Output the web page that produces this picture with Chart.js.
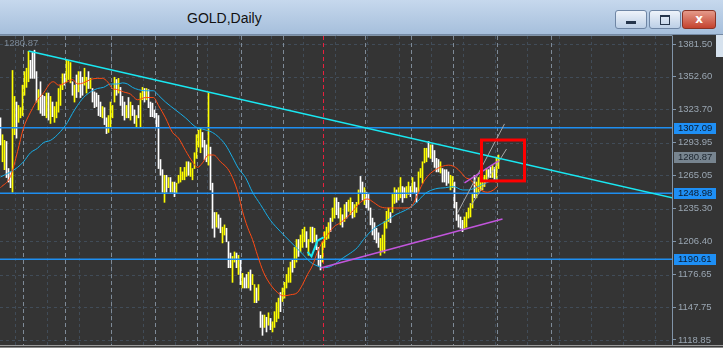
<!DOCTYPE html>
<html>
<head>
<meta charset="utf-8">
<script src="https://cdn.jsdelivr.net/npm/chart.js@4.4.1/dist/chart.umd.min.js"></script>
<style>
  body { margin: 0; width: 723px; height: 348px; overflow: hidden; background: #343434; position: relative; font-family: 'Liberation Sans', Arial, sans-serif; }
  #title { position: absolute; left: 0; top: 0; width: 723px; height: 34px; background: linear-gradient(#c6d8ed, #a6bfdc); border-bottom: 1px solid #7489a3; }
  #title span { position: absolute; left: 187px; top: 10px; font-size: 14px; color: #111; }
  .btn { position: absolute; top: 10px; height: 17px; border: 1px solid #6f86a5; border-radius: 3px; background: linear-gradient(#eef3fa, #bccfe6); }
  .btn i { position: absolute; display: block; }
  #cls { background: linear-gradient(#e59a8a, #c4432f); border-color: #8a3426; color: #fff; font: bold 12px 'DejaVu Sans', sans-serif; text-align: center; line-height: 17px; }
  #frameR { position: absolute; left: 716px; top: 35px; width: 7px; height: 22px; background: #d6e2ee; }
  #frameB { position: absolute; left: 0; top: 345px; width: 723px; height: 3px; background: #3b3b3b; border-top: 1px solid #9a9a9a; box-sizing: border-box; }
  #frameB div { position: absolute; left: 0; top: 1px; width: 723px; height: 1px; background: #8a8a8a; }
  canvas { position: absolute; left: 0; top: 35px; }
</style>
</head>
<body>
<div id="title">
  <span>GOLD,Daily</span>
  <div class="btn" style="left:615px;width:30px"><i style="left:10px;top:10px;width:10px;height:3px;background:#26364c"></i></div>
  <div class="btn" style="left:649px;width:30px"><i style="left:10px;top:4px;width:8px;height:7px;border:1px solid #26364c;border-top-width:2px"></i></div>
  <div class="btn" id="cls" style="left:682px;width:32px">x</div>
</div>
<canvas id="c" width="723" height="310"></canvas>
<div id="frameR"></div>
<div id="frameB"><div></div></div>
<script>
// daily bars, index 0 = first bar on the left
const barDirs =
  'WYYWWWYYWY' + 'YYYYYWWWWY' + 'WWWYWYWYYY' + 'YYWYYYWYWY' + 'WWYYWYWWWW' +
  'WYWWYYYYWY' + 'WWWYWYWWYW' + 'YYWYWWWWWW' + 'WWYWYWYWYY' + 'YYYYWYYYYY' +
  'YWWWYWWWYW' + 'WYYWWWYYWY' + 'WYWWYWYYWY' + 'WWYWYWYYYY' + 'WYYYYYWYYW' +
  'YYYWYYWYWW' + 'WYYYYWYYWW' + 'YWYWYYWYYY' + 'WWYWWWWWWW' + 'YYYYYWYYWY' +
  'YWWYYWYWWY' + 'YYYYWYWWWW' + 'YWWWWYYWWW' + 'WWYYYYYWYY' + 'YYYYWWYWYY';

const barHighs = [
  1316,1301,1296,1295,1271,1268,1358,1335,1330,1327,
  1325,1345,1357,1360,1375,1367,1374,1376,1357,1341,
  1348,1336,1335,1338,1338,1335,1330,1326,1330,1342,
  1345,1355,1355,1367,1367,1365,1348,1345,1354,1357,
  1357,1352,1360,1352,1357,1351,1342,1339,1338,1336,
  1330,1326,1325,1316,1318,1330,1327,1352,1350,1351,
  1343,1335,1330,1327,1334,1330,1327,1323,1318,1327,
  1338,1343,1342,1342,1341,1330,1329,1323,1320,1318,
  1279,1270,1265,1265,1263,1263,1259,1259,1258,1265,
  1272,1268,1272,1277,1277,1276,1271,1285,1301,1305,
  1307,1303,1296,1292,1338,1290,1258,1232,1232,1230,
  1227,1219,1221,1218,1206,1196,1193,1197,1196,1194,
  1190,1178,1174,1177,1179,1181,1177,1168,1165,1168,
  1144,1141,1141,1139,1143,1138,1135,1144,1152,1156,
  1161,1165,1170,1177,1183,1188,1190,1201,1208,1208,
  1212,1217,1219,1215,1208,1219,1219,1218,1212,1201,
  1194,1206,1215,1219,1223,1227,1236,1245,1245,1241,
  1236,1230,1239,1241,1243,1245,1241,1239,1241,1252,
  1264,1259,1254,1250,1248,1236,1227,1223,1218,1214,
  1209,1212,1224,1233,1236,1232,1248,1254,1252,1254,
  1263,1255,1254,1255,1259,1255,1263,1259,1254,1268,
  1271,1277,1289,1289,1295,1292,1292,1287,1280,1279,
  1277,1271,1270,1270,1268,1265,1264,1259,1241,1230,
  1228,1225,1228,1232,1236,1240,1248,1265,1259,1263,
  1265,1263,1265,1271,1270,1272,1274,1272,1281,1283
];

const barLows = [
  1292,1277,1270,1263,1259,1254,1250,1301,1298,1312,
  1316,1318,1336,1343,1348,1351,1351,1351,1330,1323,
  1320,1318,1318,1316,1314,1311,1317,1312,1316,1321,
  1327,1341,1345,1348,1350,1347,1336,1330,1334,1339,
  1334,1336,1345,1338,1342,1342,1330,1325,1326,1318,
  1317,1316,1310,1302,1303,1308,1316,1330,1336,1338,
  1327,1318,1314,1316,1316,1314,1318,1311,1308,1316,
  1308,1332,1330,1332,1325,1317,1317,1316,1308,1271,
  1265,1250,1241,1250,1254,1250,1250,1246,1249,1258,
  1259,1261,1261,1264,1265,1264,1261,1271,1280,1290,
  1285,1290,1279,1277,1274,1252,1218,1210,1219,1218,
  1214,1205,1212,1206,1183,1183,1170,1188,1183,1177,
  1168,1165,1165,1165,1165,1163,1168,1152,1152,1154,
  1130,1123,1130,1126,1132,1128,1126,1130,1135,1138,
  1144,1153,1156,1165,1170,1170,1179,1183,1188,1193,
  1197,1201,1206,1201,1194,1206,1205,1206,1199,1185,
  1181,1188,1201,1208,1209,1215,1224,1227,1230,1227,
  1221,1219,1224,1227,1233,1230,1227,1228,1232,1239,
  1249,1243,1239,1236,1234,1221,1212,1208,1205,1201,
  1194,1197,1196,1218,1224,1223,1232,1240,1241,1243,
  1245,1241,1245,1245,1248,1246,1250,1249,1241,1250,
  1263,1258,1276,1277,1281,1280,1277,1272,1268,1268,
  1267,1259,1259,1256,1258,1252,1254,1236,1225,1219,
  1218,1215,1218,1219,1227,1228,1236,1245,1245,1250,
  1252,1252,1255,1259,1263,1263,1263,1261,1259,1271
];

// moving averages as [bar index, price]
const fastMA = [[0,1254],[5,1264],[8.5,1286],[11.5,1307],[15,1321],[18.5,1332],[21.5,1338],[25,1347],[26.5,1348],[29,1345],
  [33.5,1348],[36,1350],[38.5,1346],[41.5,1347],[45,1350],[48.5,1351],[51,1351],[53.5,1348],[56,1342],[58.5,1341],
  [61.5,1339],[65,1337],[68.5,1332],[72.5,1334],[76.5,1334],[79,1327],[82.5,1316],[86,1303],[89,1298],[92.5,1287],
  [96,1277],[98.5,1272],[101,1276],[104,1283],[106.5,1283],[110,1277],[113.5,1271],[116,1263],[119,1248],[121,1233],
  [123.5,1219],[126,1208],[128.5,1194],[131.5,1179],[135,1168],[138.5,1161],[141.5,1158],[145,1159],[148.5,1161],[151,1168],
  [153.5,1177],[156,1185],[158.5,1197],[161,1206],[163.5,1212],[166.5,1219],[170,1223],[173.5,1228],[176.5,1234],[180,1241],
  [183.5,1244],[186.5,1241],[190,1237],[194,1236],[197.5,1236],[201,1236],[204,1236],[206.5,1240],[209,1250],[211.5,1259],
  [214,1265],[217.5,1270],[221,1273],[224,1274],[227.5,1272],[230,1268],[232.5,1263],[235,1261],[237.5,1256],[240,1252],
  [243.5,1250],[246.5,1252],[248.5,1255]];

const slowMA = [[0,1263.5],[5,1268],[8.5,1272],[11.5,1277],[15,1285],[18.5,1289],[21.5,1294],[25,1296],[28.5,1301],[31.5,1307],
  [33.5,1312],[36,1320],[38.5,1327],[41.5,1334],[45,1339],[48.5,1342],[51.5,1343],[55,1346],[58.5,1346],[61,1347],
  [63.5,1346],[66,1343],[69,1341],[72.5,1340],[76.5,1340],[79,1336],[82.5,1330],[87.5,1323],[92.5,1316],[97.5,1308],
  [101,1306],[106,1303],[109,1299],[112.5,1292],[116,1281],[119,1271],[122.5,1263],[126,1250],[130,1239],[135,1225],
  [140,1215],[145,1206],[150,1197],[155,1188],[158.5,1184.5],[161.5,1183],[165,1184],[168.5,1188],[171.5,1192],[175,1196],
  [178.5,1201],[181.5,1208],[185,1215],[188.5,1220],[192.5,1224],[197.5,1230],[202.5,1234],[207.5,1240],[212.5,1249],[217.5,1253],
  [222.5,1254],[226.5,1255],[231,1252],[234,1252],[237.5,1254],[241,1257],[244,1259],[248.5,1262]];

const zigzag = [[153.5,1197],[155.5,1193],[158.5,1207],[161.5,1210]];

// drawn objects
const resistLine = [[14,1375.3],[336,1244.9]];
const supportLine = [[160,1182.8],[251,1226.2]];
const shortLine = [[232,1258.2],[249,1277.7]];
const channelA = [[228.5,1231.6],[252,1310.6]];
const channelB = [[235.5,1238.7],[253,1288.3]];
const levels = [1307.09, 1248.98, 1190.61];
const lastPrice = 1280.87;
const markIndex = 161;
const boxIdx = [240.5, 262];
const boxPrice = [1296.3, 1260.0];

const monthStarts = [11, 32, 55, 77, 98, 120, 141, 182, 205, 226, 248, 275];
const tickValues = [1381.50, 1352.60, 1323.70, 1293.95, 1265.05, 1235.30, 1206.40, 1176.65, 1147.75, 1118.85];

const xMin = -0.25, xMax = 335.75;
const yMin = 1114.41, yMax = 1388.6;

const toPts = arr => arr.map(p => ({ x: p[0], y: p[1] }));

function lineSet(points, color, width, extra) {
  return Object.assign({
    type: 'line', data: toPts(points), borderColor: color, borderWidth: width,
    pointRadius: 0, fill: false, tension: 0, order: 1
  }, extra || {});
}

const bars = barHighs.map((h, i) => ({ x: i, y: [barLows[i], h] }));
const barColors = barDirs.split('').map(d => d === 'Y' ? '#ffff00' : '#ffffff');

const datasets = [
  lineSet(resistLine, '#19e8f2', 1.5),
  lineSet(supportLine, '#c255dc', 1.5),
  lineSet(shortLine, '#c255dc', 1.5),
  lineSet(channelA, '#a8a8a8', 1),
  lineSet(channelB, '#a8a8a8', 1),
  lineSet(zigzag, '#19e8f2', 2),
  lineSet(fastMA, '#ff4a12', 1, { cubicInterpolationMode: 'monotone', order: 2 }),
  lineSet(slowMA, '#17aee8', 1, { cubicInterpolationMode: 'monotone', order: 2 }),
  ...levels.map(v => lineSet([[xMin, v], [xMax, v]], '#1e8ef0', 1.5, { order: 3 })),
  { type: 'bar', data: bars, backgroundColor: barColors, borderWidth: 0, barThickness: 1, order: 10 }
];

// grid, month separators and the red marker line behind the bars
const backdrop = {
  id: 'backdrop',
  beforeDatasetsDraw(chart) {
    const { ctx, chartArea: a, scales: { x, y } } = chart;
    ctx.save();
    ctx.lineWidth = 1;
    ctx.strokeStyle = '#414c58';
    ctx.setLineDash([3, 3]);
    tickValues.forEach(v => {
      const py = Math.round(y.getPixelForValue(v)) + 0.5;
      ctx.beginPath(); ctx.moveTo(a.left, py); ctx.lineTo(a.right, py); ctx.stroke();
    });
    for (let i = 7.25; i < xMax; i += 16) {
      const px = Math.round(x.getPixelForValue(i)) + 0.5;
      ctx.beginPath(); ctx.moveTo(px, a.top); ctx.lineTo(px, a.bottom); ctx.stroke();
    }
    ctx.strokeStyle = '#7e8a97';
    ctx.setLineDash([4, 3]);
    monthStarts.forEach(i => {
      const px = Math.round(x.getPixelForValue(i)) + 0.5;
      ctx.beginPath(); ctx.moveTo(px, a.top); ctx.lineTo(px, a.bottom); ctx.stroke();
    });
    ctx.strokeStyle = '#e8203e';
    const mx = Math.round(x.getPixelForValue(markIndex)) + 0.5;
    ctx.beginPath(); ctx.moveTo(mx, a.top); ctx.lineTo(mx, a.bottom); ctx.stroke();
    ctx.restore();
  },
  afterDatasetsDraw(chart) {
    const { ctx, scales: { x, y } } = chart;
    ctx.save();
    ctx.strokeStyle = '#ff0000';
    ctx.lineWidth = 3;
    const x0 = x.getPixelForValue(boxIdx[0]), x1 = x.getPixelForValue(boxIdx[1]);
    const y0 = y.getPixelForValue(boxPrice[0]), y1 = y.getPixelForValue(boxPrice[1]);
    ctx.strokeRect(x0, y0, x1 - x0, y1 - y0);
    ctx.restore();
  },
  afterDraw(chart) {
    const { ctx, chartArea: a, scales: { y } } = chart;
    ctx.save();
    ctx.strokeStyle = '#8194a8';
    ctx.lineWidth = 1;
    ctx.beginPath(); ctx.moveTo(0, 0.5); ctx.lineTo(a.right + 0.5, 0.5); ctx.stroke();
    ctx.font = '9.5px "Liberation Sans", Arial, sans-serif';
    ctx.textBaseline = 'middle';
    ctx.textAlign = 'left';
    const tag = (v, bg, fg) => {
      const py = Math.round(y.getPixelForValue(v));
      ctx.fillStyle = bg;
      ctx.fillRect(a.right + 2, py - 5, 42, 11);
      ctx.fillStyle = fg;
      ctx.fillText(v.toFixed(2), a.right + 6, py + 0.5);
    };
    levels.forEach(v => tag(v, '#1e8ff5', '#0b1a2c'));
    tag(lastPrice, '#77848f', '#1a232c');
    ctx.fillStyle = '#7b8896';
    ctx.fillText(lastPrice.toFixed(2), 4, 8);
    ctx.restore();
  }
};

new Chart(document.getElementById('c'), {
  type: 'bar',
  data: { datasets },
  options: {
    responsive: false,
    animation: false,
    events: [],
    layout: { padding: { top: 1, bottom: 0, left: 0, right: 0 } },
    plugins: { legend: { display: false }, tooltip: { enabled: false } },
    scales: {
      x: { type: 'linear', min: xMin, max: xMax, display: false, offset: false },
      y: {
        position: 'right',
        min: yMin,
        max: yMax,
        afterFit(s) { s.width = 51; s.paddingTop = 0; s.paddingBottom = 0; },
        afterBuildTicks(s) { s.ticks = tickValues.map(v => ({ value: v })); },
        ticks: {
          autoSkip: false,
          padding: 2,
          color: '#9aa6b2',
          font: { family: '"Liberation Sans", Arial, sans-serif', size: 9.5 },
          callback: v => v.toFixed(2)
        },
        grid: { drawOnChartArea: false, tickLength: 4, color: '#8194a8' },
        border: { display: true, color: '#8194a8' }
      }
    }
  },
  plugins: [backdrop]
});
</script>
</body>
</html>
